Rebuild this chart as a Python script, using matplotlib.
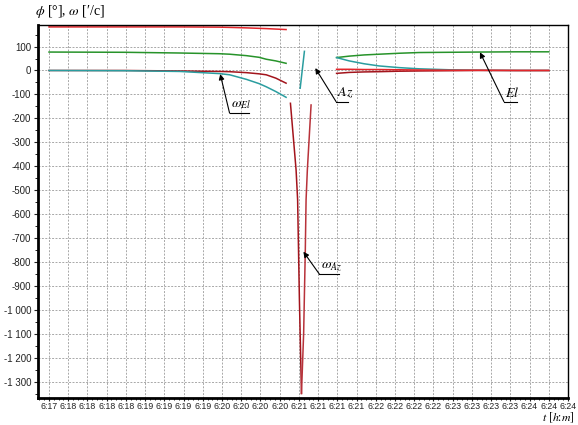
import numpy as np
import matplotlib
matplotlib.use("Agg")
import matplotlib.pyplot as plt
from matplotlib.ticker import FixedLocator, FuncFormatter, MultipleLocator, AutoMinorLocator

plt.rcParams['mathtext.fontset'] = 'stix'
plt.rcParams['font.family'] = ['Liberation Sans', 'DejaVu Sans']

# time in seconds since 6:00:00
# before the zenith gap
t_left = [1065, 1124, 1167, 1198, 1206, 1219, 1229, 1234.5, 1242, 1250]
az_left = [182, 182, 182, 181, 180, 178, 176, 175, 173, 171]
el_left = [77, 76, 73, 70, 68, 62, 55, 47, 40, 30]
w_el_left = [0, -1, -4, -13, -18, -37, -55, -68, -88, -112]
w_az_left = [0, 0, -2, -4, -5, -9, -14, -18, -32, -53]

# zenith pass
t_wel_mid = [1261, 1264.3]
w_el_mid = [-74, 80]
t_waz_down = [1253.4, 1257.8, 1259, 1260.4, 1262]
w_az_down = [-137, -415, -540, -958, -1349]
t_waz_up = [1262, 1263.7, 1265, 1265.6, 1266.6, 1269.5]
w_az_up = [-1349, -1098, -749, -540, -415, -144]

# after the gap
t_right = [1289.4, 1299.3, 1311, 1322.6, 1338.2, 1353.8, 1377.1, 1400.5, 1430, 1455]
az_right = [5, 5, 4, 4, 3, 2, 1, 1, 0, 0]
el_right = [54, 60, 65, 68, 72, 75, 76, 77, 78, 78]
w_el_right = [54, 40, 28, 19, 12, 7, 3, 1, 0, 0]
w_az_right = [-12, -8, -6, -5, -3, -2, -1, 0, 0, 0]

tick_times = np.arange(1065, 1471, 15)

c_az = '#e3262b'
c_waz = '#a3141c'
c_el = '#27932a'
c_wel = '#2a9d9f'

fig = plt.figure(figsize=(5.78, 4.25), dpi=100)
ax = fig.add_axes([38 / 578, 1 - 398 / 425, 530 / 578, 373 / 425])

lw = 1.1
ax.plot(t_left, az_left, color=c_az, lw=lw)
ax.plot(t_left, el_left, color=c_el, lw=lw)
ax.plot(t_left, w_az_left, color=c_waz, lw=lw)
ax.plot(t_left, w_el_left, color=c_wel, lw=lw)
ax.plot(t_wel_mid, w_el_mid, color=c_wel, lw=lw)
ax.plot(t_waz_down, w_az_down, color=c_waz, lw=lw)
ax.plot(t_waz_up, w_az_up, color='#b8323a', lw=lw)
ax.plot(t_right, el_right, color=c_el, lw=lw)
ax.plot(t_right, w_el_right, color=c_wel, lw=lw)
ax.plot(t_right, w_az_right, color=c_waz, lw=lw)
ax.plot(t_right, az_right, color=c_az, lw=lw)

ax.set_xlim(1056.4, 1470)
ax.set_ylim(-1368, 190)

ax.xaxis.set_major_locator(FixedLocator(tick_times))
ax.xaxis.set_major_formatter(FuncFormatter(lambda t, p: "6:%02d" % (int(t) // 60)))
ax.xaxis.set_minor_locator(AutoMinorLocator(4))
ax.yaxis.set_major_locator(MultipleLocator(100))
ax.yaxis.set_minor_locator(AutoMinorLocator(2))
ax.yaxis.set_major_formatter(FuncFormatter(lambda v, p: f"{int(round(v)):,}".replace(',', ' ')))
ax.tick_params(labelsize=7, length=3, width=0.8, pad=2, colors='#222222')
ax.tick_params(which='minor', length=2, width=0.6)
ax.tick_params(axis='x', which='major', labelsize=6.3, pad=1, length=2)
ax.tick_params(axis='x', which='minor', length=1.5)

ax.grid(True, which='major', color='#a8a8a8', linestyle=(0, (2, 1.5)), linewidth=0.7)
for s in ['left', 'bottom']:
    ax.spines[s].set_linewidth(2)
for s in ['top', 'right']:
    ax.spines[s].set_linewidth(1)

# annotations: (label, arrow head, underline left, underline right)
notes = [
    (r'$\omega_{El}$', (1198.6, -15), (1205.9, -178), 1221),
    (r'$Az$', (1272.8, 10), (1289, -130), 1298),
    (r'$El$', (1401.3, 76), (1420, -130), 1430.5),
    (r'$\omega_{Az}$', (1263.5, -757), (1275.9, -850), 1291),
]
for label, head, ul, ur in notes:
    ax.annotate('', xy=head, xytext=ul,
                arrowprops=dict(arrowstyle='-|>', color='black', lw=0.8,
                                mutation_scale=8, shrinkA=0, shrinkB=0))
    ax.plot([ul[0], ur], [ul[1], ul[1]], color='black', lw=0.8)
    ax.text(ul[0] + 1, ul[1] + 6, label, fontsize=10, ha='left', va='bottom')

fig.text(35 / 578, 1 - 20 / 425, r"$\phi$ [°], $\omega$ [′/c]", fontsize=10,
         family='Liberation Serif', ha='left', va='bottom')
fig.text(575 / 578, 0, r"$t$ $[h$:$m]$", fontsize=8.5,
         family='Liberation Serif', ha='right', va='bottom')

fig.savefig("out.png", dpi=100)
